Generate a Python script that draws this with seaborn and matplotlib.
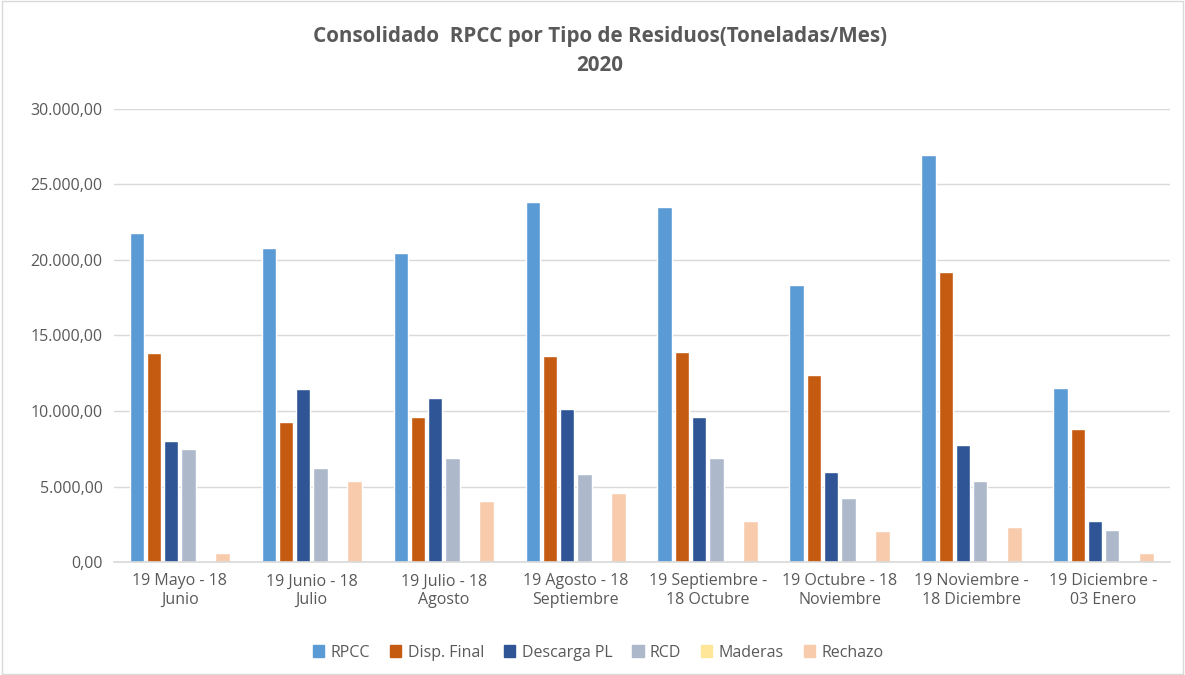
import matplotlib
matplotlib.use("Agg")
import matplotlib.pyplot as plt
import pandas as pd
import seaborn as sns
from matplotlib.patches import Rectangle
from matplotlib.ticker import FuncFormatter

periods = ["19 Mayo - 18\nJunio", "19 Junio - 18\nJulio", "19 Julio - 18\nAgosto",
           "19 Agosto - 18\nSeptiembre", "19 Septiembre -\n18 Octubre",
           "19 Octubre - 18\nNoviembre", "19 Noviembre -\n18 Diciembre",
           "19 Diciembre -\n03 Enero"]
series = ["RPCC", "Disp. Final", "Descarga PL", "RCD", "Maderas", "Rechazo"]

rpcc = [21790, 20790, 20460, 23840, 23510, 18340, 26950, 11520]
disp_final = [13840, 9270, 9600, 13640, 13910, 12380, 19200, 8810]
descarga_pl = [8010, 11460, 10860, 10130, 9600, 5960, 7750, 2720]
rcd = [7480, 6230, 6890, 5830, 6890, 4240, 5360, 2120]
maderas = [0, 0, 0, 0, 0, 0, 0, 0]
rechazo = [600, 5360, 4040, 4570, 2720, 2050, 2320, 600]

colors = ["#5B9BD5", "#C55A11", "#2F5597", "#ADB9CA", "#FFE699", "#F8CBAD"]

values = [rpcc, disp_final, descarga_pl, rcd, maderas, rechazo]
rows = []
for name, vals in zip(series, values):
    for p, v in zip(periods, vals):
        rows.append({"Periodo": p, "Tipo": name, "Toneladas": v})
df = pd.DataFrame(rows)

sns.set_style("white")
plt.rcParams["font.family"] = ["Open Sans", "DejaVu Sans"]

fig = plt.figure(figsize=(11.85, 6.75), dpi=100)
ax = fig.add_axes([0.096, 0.167, 0.891, 0.672])

sns.barplot(data=df, x="Periodo", y="Toneladas", hue="Tipo", hue_order=series,
            order=periods, palette=colors, width=0.78, gap=0.15, ax=ax,
            errorbar=None, saturation=1, legend=False)

ax.set_ylim(0, 30000)
ax.set_yticks(range(0, 30001, 5000))


def fmt(v, pos):
    s = f"{v:,.2f}"
    return s.replace(",", "X").replace(".", ",").replace("X", ".")


ax.yaxis.set_major_formatter(FuncFormatter(fmt))
ax.grid(axis="y", color="#D9D9D9", linewidth=1)
ax.set_axisbelow(True)
for side in ["top", "right", "left"]:
    ax.spines[side].set_visible(False)
ax.spines["bottom"].set_color("#D9D9D9")
ax.spines["bottom"].set_linewidth(1.2)
ax.tick_params(axis="both", length=0, labelsize=11.5, colors="#595959", pad=8)
ax.set_xlabel("")
ax.set_ylabel("")

fig.text(0.506, 0.962, "Consolidado  RPCC por Tipo de Residuos(Toneladas/Mes)\n2020",
         ha="center", va="top", fontsize=14.9, fontweight="bold",
         color="#595959", linespacing=1.55)

handles = [Rectangle((0, 0), 1, 1, color=c) for c in colors]
fig.legend(handles, series, loc="lower center", ncol=6, frameon=False,
           bbox_to_anchor=(0.505, 0.0), fontsize=11.5, labelcolor="#595959",
           handlelength=0.7, handleheight=0.7, handletextpad=0.4,
           columnspacing=1.25)

border = Rectangle((0.002, 0.002), 0.996, 0.996, transform=fig.transFigure,
                   fill=False, edgecolor="#D9D9D9", linewidth=1)
fig.patches.append(border)

fig.savefig("out.png", dpi=100)
